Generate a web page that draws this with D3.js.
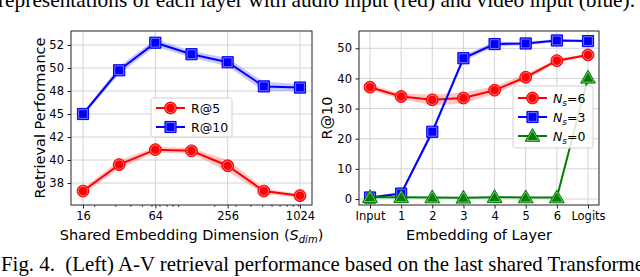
<!DOCTYPE html>
<html>
<head>
<meta charset="utf-8">
<script src="https://cdn.jsdelivr.net/npm/d3@7"></script>
<style>
  body { margin: 0; background: #fff; }
  svg { display: block; }
</style>
</head>
<body>
<svg id="fig" width="640" height="277"></svg>
<script>
// left panel: retrieval vs shared embedding dimension
var dims = [16, 32, 64, 128, 256, 512, 1024];
var r5 = [37.3, 39.6, 40.9, 40.8, 39.5, 37.3, 36.9];
var r5Std = [0.25, 0.35, 0.25, 0.25, 0.5, 0.25, 0.15];
var r10 = [45.0, 49.8, 52.2, 51.2, 50.5, 48.4, 48.3];
var r10Std = [0.2, 0.35, 0.3, 0.3, 0.35, 0.4, 0.3];
var dimTicks = [16, 64, 256, 1024];
var dimMinor = [20, 30, 40, 50, 60, 70, 80, 90, 100, 200, 300, 400, 500, 600, 700, 800, 900, 1000];
var perfTicks = [38, 40, 42, 45, 48, 50, 52];

// right panel: R@10 per layer embedding
var layers = ["Input", "1", "2", "3", "4", "5", "6", "Logits"];
var ns6 = [37.1, 34.0, 32.9, 33.5, 36.1, 40.4, 45.9, 47.8];
var ns6Std = [1.0, 0.9, 1.8, 1.8, 1.3, 1.0, 0.6, 0.4];
var ns3 = [0.5, 1.8, 22.3, 46.7, 51.4, 51.6, 52.6, 52.4];
var ns3Std = [0.3, 0.5, 1.2, 1.0, 0.8, 0.6, 0.5, 0.4];
var ns0 = [0.6, 0.6, 0.5, 0.4, 0.6, 0.5, 0.5, 40.2];
var ns0Std = [0.2, 0.2, 0.2, 0.2, 0.2, 0.2, 0.2, 0.5];
var recallTicks = [0, 10, 20, 30, 40, 50];

var svg = d3.select("#fig");
var sans = "DejaVu Sans, sans-serif";
var serif = "Liberation Serif, Times New Roman, serif";

// caption fragments
svg.append("text")
  .attr("x", -2).attr("y", 7)
  .attr("font-family", serif).attr("font-size", 21)
  .attr("textLength", 637).attr("lengthAdjust", "spacingAndGlyphs")
  .text("representations of each layer with audio input (red) and video input (blue).");
svg.append("text")
  .attr("x", 1).attr("y", 271)
  .attr("font-family", serif).attr("font-size", 21)
  .attr("textLength", 643).attr("lengthAdjust", "spacingAndGlyphs")
  .text("Fig. 4.\u00a0\u00a0(Left) A-V retrieval performance based on the last shared Transforme");

function marker(g, kind, color, cx, cy) {
  var sizes = { circle: 110, square: 125, triangle: 95 };
  var types = { circle: d3.symbolCircle, square: d3.symbolSquare, triangle: d3.symbolTriangle };
  var dy = kind == "triangle" ? 1 : 0;
  g.append("path")
    .attr("transform", "translate(" + cx + "," + (cy + dy) + ")")
    .attr("d", d3.symbol().type(types[kind]).size(sizes[kind])())
    .attr("fill", color).attr("stroke", color).attr("stroke-width", 1);
  g.append("path")
    .attr("transform", "translate(" + cx + "," + (cy + dy) + ")")
    .attr("d", d3.symbol().type(types[kind]).size(sizes[kind] * 0.62)())
    .attr("fill", "none").attr("stroke", "rgba(255,255,255,0.45)").attr("stroke-width", 1);
}

function panel(o) {
  var g = svg.append("g");
  var x = o.x, y = o.y, f = o.frame;
  // grid
  o.xGrid.forEach(function(t) {
    g.append("line").attr("x1", x(t)).attr("x2", x(t)).attr("y1", f.top).attr("y2", f.bottom)
      .attr("stroke", "#d4d4d4").attr("stroke-width", 1);
  });
  o.yTicks.forEach(function(t) {
    g.append("line").attr("x1", f.left).attr("x2", f.right).attr("y1", y(t)).attr("y2", y(t))
      .attr("stroke", "#d4d4d4").attr("stroke-width", 1);
  });
  // series
  o.series.forEach(function(s) {
    var pts = o.xs.map(function(v, i) { return { x: v, v: s.values[i], s: s.std[i] }; });
    g.append("path").datum(pts)
      .attr("d", d3.area().x(function(d) { return x(d.x); })
        .y0(function(d) { return y(d.v - d.s); }).y1(function(d) { return y(d.v + d.s); }))
      .attr("fill", s.color).attr("fill-opacity", 0.22);
    g.append("path").datum(pts)
      .attr("d", d3.line().x(function(d) { return x(d.x); }).y(function(d) { return y(d.v); }))
      .attr("fill", "none").attr("stroke", s.color).attr("stroke-width", 2);
    pts.forEach(function(d) { marker(g, s.kind, s.color, x(d.x), y(d.v)); });
  });
  // frame
  g.append("rect").attr("x", f.left).attr("y", f.top)
    .attr("width", f.right - f.left).attr("height", f.bottom - f.top)
    .attr("fill", "none").attr("stroke", "#222").attr("stroke-width", 1);
  // axes
  var xa = g.append("g").attr("transform", "translate(0," + f.bottom + ")")
    .call(d3.axisBottom(x).tickValues(o.xTicks).tickSize(3.5).tickPadding(3).tickFormat(o.xFormat));
  var ya = g.append("g").attr("transform", "translate(" + f.left + ",0)")
    .call(d3.axisLeft(y).tickValues(o.yTicks).tickSize(3.5).tickPadding(3.5).tickFormat(d3.format("d")));
  [xa, ya].forEach(function(a) {
    a.select(".domain").remove();
    a.selectAll("text").attr("font-family", sans).attr("font-size", 11.5).attr("fill", "#000");
    a.selectAll("line").attr("stroke", "#222");
  });
  if (o.xMinor) {
    o.xMinor.forEach(function(t) {
      g.append("line").attr("x1", x(t)).attr("x2", x(t)).attr("y1", f.bottom).attr("y2", f.bottom + 2)
        .attr("stroke", "#222").attr("stroke-width", 0.8);
    });
  }
  // y label
  g.append("text")
    .attr("transform", "translate(" + o.yLabelX + "," + ((f.top + f.bottom) / 2) + ") rotate(-90)")
    .attr("text-anchor", "middle").attr("font-family", sans).attr("font-size", 14.5)
    .text(o.yLabel);
  // x label
  var xl = g.append("text").attr("x", (f.left + f.right) / 2).attr("y", 240)
    .attr("text-anchor", "middle").attr("font-family", sans).attr("font-size", 14.5);
  o.xLabel(xl);
  // legend
  var L = o.legend;
  g.append("rect").attr("x", L.x).attr("y", L.y).attr("width", L.w).attr("height", L.h)
    .attr("rx", 2.5).attr("fill", "#fff").attr("fill-opacity", 0.85)
    .attr("stroke", "#d0d0d0").attr("stroke-width", 1);
  o.series.forEach(function(s, i) {
    var cy = L.y + L.first + i * L.step;
    g.append("line").attr("x1", L.x + 5).attr("x2", L.x + 34).attr("y1", cy).attr("y2", cy)
      .attr("stroke", s.color).attr("stroke-width", 2);
    marker(g, s.kind, s.color, L.x + 19.5, cy);
    var t = g.append("text").attr("x", L.x + 40).attr("y", cy + 4.5)
      .attr("font-family", sans).attr("font-size", 12.5);
    s.label(t);
  });
}

panel({
  frame: { left: 71, right: 312, top: 31, bottom: 205 },
  x: d3.scaleLog().base(2).domain([16, 1024]).range([83, 300]),
  y: d3.scaleLinear().domain(perfTicks).range([183, 160, 137, 114, 91, 68, 45]),
  xs: dims,
  xTicks: dimTicks, xGrid: dimTicks, xMinor: dimMinor,
  xFormat: d3.format("d"),
  yTicks: perfTicks,
  yLabel: "Retrieval Performance", yLabelX: 45,
  xLabel: function(t) {
    t.append("tspan").text("Shared Embedding Dimension (");
    t.append("tspan").attr("font-style", "italic").text("S");
    t.append("tspan").attr("font-style", "italic").attr("font-size", 10).attr("dy", 3).text("dim");
    t.append("tspan").attr("dy", -3).text(")");
  },
  legend: { x: 151, y: 98, w: 81, h: 39, first: 10, step: 19 },
  series: [
    { values: r5, std: r5Std, color: "#ff0000", kind: "circle",
      label: function(t) { t.text("R@5"); } },
    { values: r10, std: r10Std, color: "#0000ff", kind: "square",
      label: function(t) { t.text("R@10"); } }
  ]
});

function nsLabel(n) {
  return function(t) {
    t.append("tspan").attr("font-style", "italic").text("N");
    t.append("tspan").attr("font-style", "italic").attr("font-size", 9).attr("dy", 3).text("s");
    t.append("tspan").attr("dy", -3).text("=" + n);
  };
}

var px = d3.scalePoint().domain(layers).range([370, 588]);
panel({
  frame: { left: 359, right: 599, top: 31, bottom: 205 },
  x: px,
  y: d3.scaleLinear().domain([0, 50]).range([199, 48.3]),
  xs: layers,
  xTicks: layers, xGrid: layers,
  xFormat: function(d) { return d; },
  yTicks: recallTicks,
  yLabel: "R@10", yLabelX: 332,
  xLabel: function(t) { t.text("Embedding of Layer"); },
  legend: { x: 513, y: 86, w: 80, h: 62, first: 12, step: 19 },
  series: [
    { values: ns6, std: ns6Std, color: "#ff0000", kind: "circle", label: nsLabel(6) },
    { values: ns3, std: ns3Std, color: "#0000ff", kind: "square", label: nsLabel(3) },
    { values: ns0, std: ns0Std, color: "#008000", kind: "triangle", label: nsLabel(0) }
  ]
});
</script>
</body>
</html>
